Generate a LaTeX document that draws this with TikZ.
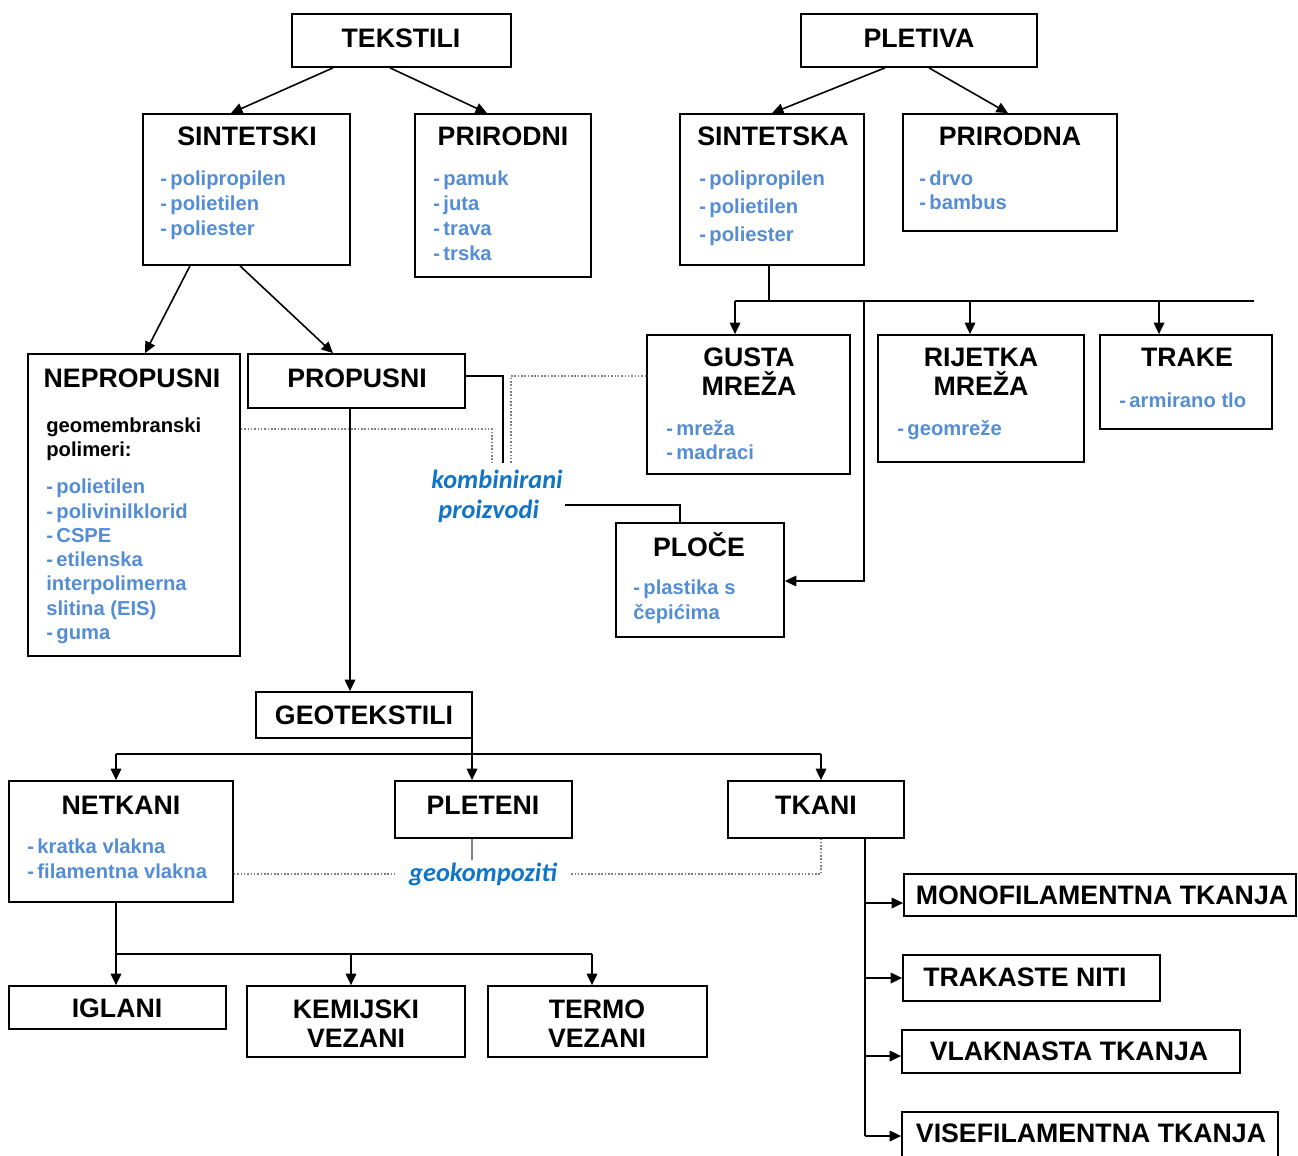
\documentclass[tikz,border=0pt]{standalone}
\usepackage{fontspec}
\setmainfont{Liberation Sans}
\newfontfamily\calibri{Carlito}
\usetikzlibrary{arrows.meta,fit}

\begin{document}
\begin{tikzpicture}[x=0.02cm, y=-0.02cm,
	box/.style={draw, line width=1pt, inner sep=0pt},
	ttl/.style={font=\bfseries\fontsize{15.2}{16.5}\selectfont, align=center, inner sep=0pt},
	itm/.style={anchor=west, inner sep=0pt, yshift=-1.1pt, text=itemblue, font=\bfseries\fontsize{11.5}{13}\selectfont, text height=1.5ex, text depth=.25ex},
	blk/.style={itm, text=black},
	kombi/.style={text=kompblue, font=\calibri\bfseries\itshape\fontsize{15}{18.2}\selectfont},
	ln/.style={line width=0.9pt},
	arr/.style={ln, -{Triangle[length=6.5pt, width=6pt]}},
	dotln/.style={line width=0.9pt, gray, densely dotted}]
	\definecolor{itemblue}{RGB}{84,141,212}
	\definecolor{kompblue}{RGB}{16,116,200}
	\useasboundingbox (0,0) rectangle (1298,1156);

	% top two trees
	\node[box, fit={(292,14) (511,67)}] (tekstili) {};
	\node[ttl] (tekstili-t) at (401,38) {TEKSTILI};
	\node[box, fit={(801,14) (1037,67)}] (pletiva) {};
	\node[ttl] (pletiva-t) at (919,38) {PLETIVA};

	\node[box, fit={(143,114) (350,265)}] (sintetski) {};
	\node[ttl] (sintetski-t) at (247,136) {SINTETSKI};
	\foreach \lbl [count=\i] in {polipropilen, polietilen, poliester}
		\node[itm] (sintetski-\i) at (160, 153+25*\i) {-\,\lbl};

	\node[box, fit={(415,114) (591,277)}] (prirodni) {};
	\node[ttl] (prirodni-t) at (503,136) {PRIRODNI};
	\foreach \lbl [count=\i] in {pamuk, juta, trava, trska}
		\node[itm] (prirodni-\i) at (433, 153+25*\i) {-\,\lbl};

	\node[box, fit={(680,114) (864,265)}] (sintetska) {};
	\node[ttl] (sintetska-t) at (773,136) {SINTETSKA};
	\foreach \lbl [count=\i] in {polipropilen, polietilen, poliester}
		\node[itm] (sintetska-\i) at (699, 150+28*\i) {-\,\lbl};

	\node[box, fit={(903,114) (1117,231)}] (prirodna) {};
	\node[ttl] (prirodna-t) at (1010,136) {PRIRODNA};
	\foreach \lbl [count=\i] in {drvo, bambus}
		\node[itm] (prirodna-\i) at (919, 154+24*\i) {-\,\lbl};

	\draw[arr] (333,0 |- tekstili.south) -- (231,0 |- sintetski.north);
	\draw[arr] (390,0 |- tekstili.south) -- (487,0 |- prirodni.north);
	\draw[arr] (885,0 |- pletiva.south) -- (772,0 |- sintetska.north);
	\draw[arr] (929,0 |- pletiva.south) -- (1008,0 |- prirodna.north);

	% middle row
	\node[box, fit={(28,354) (240,656)}] (nepropusni) {};
	\node[ttl] (nepropusni-t) at (132,378) {NEPROPUSNI};
	\node[blk] (geomem-1) at (46,425) {geomembranski};
	\node[blk] (geomem-2) at (46,449) {polimeri:};
	\foreach \lbl [count=\i] in {-\,polietilen, -\,polivinilklorid, -\,CSPE, -\,etilenska, interpolimerna, slitina (EIS), -\,guma}
		\node[itm] (nepropusni-\i) at (46, 461.7+24.3*\i) {\lbl};

	\node[box, fit={(248,354) (465,408)}] (propusni) {};
	\node[ttl] (propusni-t) at (357,378) {PROPUSNI};

	\node[box, fit={(647,335) (850,474)}] (gusta) {};
	\node[ttl] (gusta-t) at (749,371.5) {GUSTA\\MREŽA};
	\foreach \lbl [count=\i] in {mreža, madraci}
		\node[itm] (gusta-\i) at (666, 404+24*\i) {-\,\lbl};

	\node[box, fit={(878,335) (1084,462)}] (rijetka) {};
	\node[ttl] (rijetka-t) at (981,371.5) {RIJETKA\\MREŽA};
	\node[itm] (rijetka-1) at (897,428) {-\,geomreže};

	\node[box, fit={(1100,335) (1272,429)}] (trake) {};
	\node[ttl] (trake-t) at (1187,357) {TRAKE};
	\node[itm] (trake-1) at (1119,400) {-\,armirano tlo};

	\node[box, fit={(616,523) (784,637)}] (ploce) {};
	\node[ttl] (ploce-t) at (699,545) {PLOČE};
	\node[itm] (ploce-1) at (633,587) {-\,plastika s};
	\node[itm] (ploce-2) at (633,612) {čepićima};

	\node[kombi, align=left] (kombinirani) at (497,496) {kombinirani\\[-1pt]\hspace{4pt}proizvodi};

	\draw[arr] (190,0 |- sintetski.south) -- (145,0 |- nepropusni.north);
	\draw[arr] (240,0 |- sintetski.south) -- (333,0 |- propusni.north);
	\coordinate (sb) at (769,301);
	\draw[ln] (769,0 |- sintetska.south) -- (sb);
	\draw[ln] (735,301) -- (1254,301);
	\draw[arr] (735,301) -- (735,0 |- gusta.north);
	\draw[arr] (970,301) -- (970,0 |- rijetka.north);
	\draw[arr] (1159,301) -- (1159,0 |- trake.north);
	\draw[arr] (864,301) -- (864,581) -- (ploce.east |- 0,581);

	\draw[ln] (propusni.east |- 0,376) -- (503,376) -- (503,463);
	\draw[dotln] (nepropusni.east |- 0,429) -- (492,429) -- (492,463);
	\draw[dotln] (gusta.west |- 0,376) -- (511,376) -- (511,463);
	\draw[ln] (565,505) -- (680,505) -- (680,0 |- ploce.north);

	% geotekstili
	\node[box, fit={(256,692) (472,738)}] (geotekstili) {};
	\node[ttl] (geotekstili-t) at (364,715) {GEOTEKSTILI};
	\draw[arr] (350,0 |- propusni.south) -- (350,0 |- geotekstili.north);

	\node[box, fit={(9,781) (233,902)}] (netkani) {};
	\node[ttl] (netkani-t) at (121,805) {NETKANI};
	\foreach \lbl [count=\i] in {kratka vlakna, filamentna vlakna}
		\node[itm] (netkani-\i) at (27, 821+25*\i) {-\,\lbl};

	\node[box, fit={(395,781) (572,838)}] (pleteni) {};
	\node[ttl] (pleteni-t) at (483,805) {PLETENI};
	\node[box, fit={(728,781) (904,838)}] (tkani) {};
	\node[ttl] (tkani-t) at (816,805) {TKANI};

	\draw[arr] (472,0 |- geotekstili.south) -- (472,0 |- pleteni.north);
	\draw[ln] (116,754) -- (821,754);
	\draw[arr] (116,754) -- (116,0 |- netkani.north);
	\draw[arr] (821,754) -- (821,0 |- tkani.north);

	\node[kombi, inner xsep=8pt] (geokompoziti) at (483,874) {geokompoziti};
	\draw[line width=0.9pt, gray] (472,0 |- pleteni.south) -- (472,860);
	\draw[dotln] (netkani.east |- geokompoziti.west) -- (geokompoziti.west);
	\draw[dotln] (geokompoziti.east) -- (821,0 |- geokompoziti.east) -- (821,0 |- tkani.south);

	% bottom rows
	\node[box, fit={(9,986) (226,1029)}] (iglani) {};
	\node[ttl] (iglani-t) at (117,1008) {IGLANI};
	\node[box, fit={(247,986) (465,1057)}] (kemijski) {};
	\node[ttl] (kemijski-t) at (356,1024) {KEMIJSKI\\VEZANI};
	\node[box, fit={(488,986) (707,1057)}] (termo) {};
	\node[ttl] (termo-t) at (597,1024) {TERMO\\VEZANI};

	\draw[arr] (116,0 |- netkani.south) -- (116,0 |- iglani.north);
	\draw[ln] (116,954) -- (592,954);
	\draw[arr] (351,954) -- (351,0 |- kemijski.north);
	\draw[arr] (592,954) -- (592,0 |- termo.north);

	\node[box, fit={(904,874) (1296,916)}] (mono) {};
	\node[ttl] (mono-t) at (1102,895) {MONOFILAMENTNA TKANJA};
	\node[box, fit={(903,955) (1160,1001)}] (trakaste) {};
	\node[ttl] (trakaste-t) at (1025,977) {TRAKASTE NITI};
	\node[box, fit={(902,1030) (1240,1073)}] (vlaknasta) {};
	\node[ttl] (vlaknasta-t) at (1069,1051) {VLAKNASTA TKANJA};
	\node[box, fit={(902,1112) (1278,1170)}] (visefil) {};
	\node[ttl] (visefil-t) at (1091,1133) {VISEFILAMENTNA TKANJA};

	\draw[ln] (865,0 |- tkani.south) -- (865,1136);
	\draw[arr] (865,903) -- (mono.west |- 0,903);
	\draw[arr] (865,978) -- (trakaste.west |- 0,978);
	\draw[arr] (865,1056) -- (vlaknasta.west |- 0,1056);
	\draw[arr] (865,1136) -- (visefil.west |- 0,1136);
\end{tikzpicture}
\end{document}
